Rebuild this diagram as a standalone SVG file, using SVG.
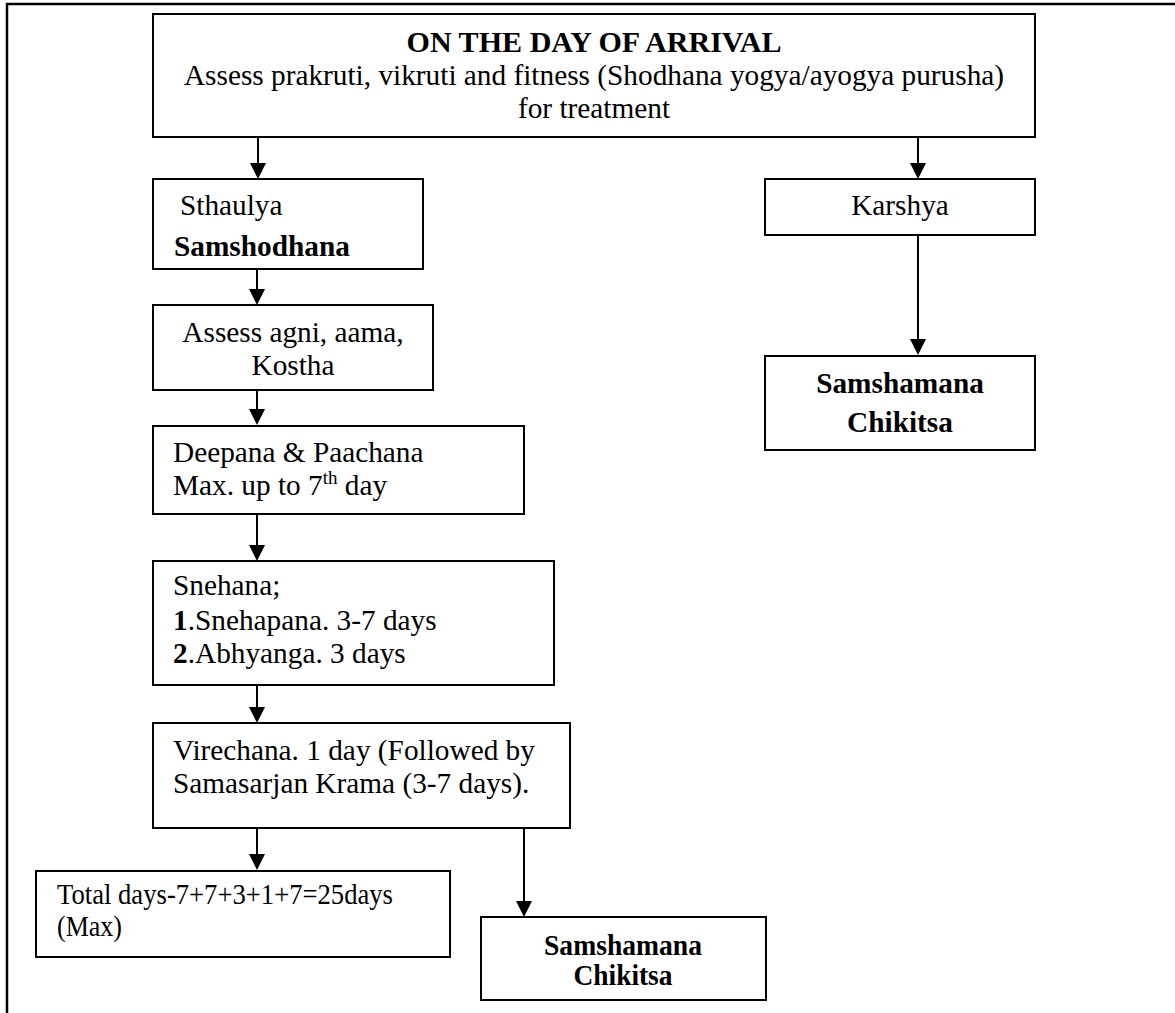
<svg xmlns="http://www.w3.org/2000/svg" width="1175" height="1013" viewBox="0 0 1175 1013">
<style>
.bg{fill:#fff}
.frame{stroke:#000;stroke-width:2.5;fill:none}
.box{fill:#fff;stroke:#000;stroke-width:2}
.t{font-family:"Liberation Serif","Times New Roman",serif;font-size:29.3px;fill:#000}
.b{font-weight:bold}
.c{text-anchor:middle}
.conn line{stroke:#000;stroke-width:2;marker-end:url(#ah)}
</style>
<defs>
<marker id="ah" markerUnits="userSpaceOnUse" markerWidth="16" markerHeight="16" refX="8" refY="8" orient="auto">
<path d="M0,0 L16,8 L0,16 z" fill="#000"/>
</marker>
</defs>
<rect class="bg" x="0" y="0" width="1175" height="1013"/>
<g id="frame">
<line class="frame" x1="6" y1="4" x2="1175" y2="4"/>
<line class="frame" x1="7" y1="3" x2="7" y2="1013"/>
</g>
<g id="connectors" class="conn">
<line x1="258" y1="137" x2="258" y2="171"/>
<line x1="918" y1="137" x2="918" y2="171"/>
<line x1="257" y1="269" x2="257" y2="297"/>
<line x1="257" y1="390" x2="257" y2="417"/>
<line x1="257" y1="514" x2="257" y2="553"/>
<line x1="257" y1="685" x2="257" y2="715"/>
<line x1="257" y1="828" x2="257" y2="862"/>
<line x1="524" y1="828" x2="524" y2="909"/>
<line x1="918" y1="235" x2="918" y2="347"/>
</g>
<g id="arrival">
<rect class="box" x="153" y="14" width="882" height="123"/>
<text class="t b c" x="594" y="52" textLength="375" lengthAdjust="spacingAndGlyphs">ON THE DAY OF ARRIVAL</text>
<text class="t c" x="594" y="85">Assess prakruti, vikruti and fitness (Shodhana yogya/ayogya purusha)</text>
<text class="t c" x="594" y="118">for treatment</text>
</g>
<g id="sthaulya">
<rect class="box" x="153" y="179" width="270" height="90"/>
<text class="t" x="180" y="215">Sthaulya</text>
<text class="t b" x="174" y="256">Samshodhana</text>
</g>
<g id="karshya">
<rect class="box" x="765" y="179" width="270" height="56"/>
<text class="t c" x="900" y="215">Karshya</text>
</g>
<g id="samshamana-right">
<rect class="box" x="765" y="356" width="270" height="94"/>
<text class="t b c" x="900" y="393">Samshamana</text>
<text class="t b c" x="900" y="432">Chikitsa</text>
</g>
<g id="assess">
<rect class="box" x="153" y="305" width="280" height="85"/>
<text class="t c" x="293" y="342">Assess agni, aama,</text>
<text class="t c" x="293" y="375">Kostha</text>
</g>
<g id="deepana">
<rect class="box" x="153" y="426" width="371" height="88"/>
<text class="t" x="173" y="462">Deepana &amp; Paachana</text>
<text class="t" x="173" y="495">Max. up to 7<tspan font-size="19" dy="-11">th</tspan><tspan dy="11"> day</tspan></text>
</g>
<g id="snehana">
<rect class="box" x="153" y="561" width="401" height="124"/>
<text class="t" x="173" y="595">Snehana;</text>
<text class="t" x="173" y="630"><tspan class="b">1</tspan>.Snehapana. 3-7 days</text>
<text class="t" x="173" y="663"><tspan class="b">2</tspan>.Abhyanga. 3 days</text>
</g>
<g id="virechana">
<rect class="box" x="153" y="723" width="417" height="105"/>
<text class="t" x="173" y="760">Virechana. 1 day (Followed by</text>
<text class="t" x="173" y="793">Samasarjan Krama (3-7 days).</text>
</g>
<g id="total">
<rect class="box" x="36" y="871" width="414" height="86"/>
<text class="t" x="57" y="904" textLength="336" lengthAdjust="spacingAndGlyphs">Total days-7+7+3+1+7=25days</text>
<text class="t" x="57" y="936" textLength="65" lengthAdjust="spacingAndGlyphs">(Max)</text>
</g>
<g id="samshamana-bottom">
<rect class="box" x="481" y="917" width="285" height="83"/>
<text class="t b c" x="623" y="955" textLength="158" lengthAdjust="spacingAndGlyphs">Samshamana</text>
<text class="t b c" x="623" y="985" textLength="99" lengthAdjust="spacingAndGlyphs">Chikitsa</text>
</g>
</svg>
